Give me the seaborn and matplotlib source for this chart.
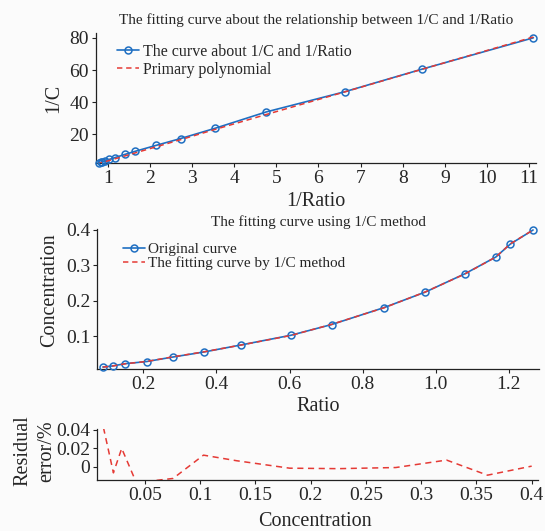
import numpy as np
import pandas as pd
import matplotlib
matplotlib.use("Agg")
import matplotlib.pyplot as plt
import seaborn as sns

# ---- data ----
# top panel: 1/C against 1/Ratio
inv_ratio = [11.10, 8.45, 6.62, 4.76, 3.54, 2.73, 2.14, 1.655, 1.40, 1.164, 1.03, 0.926, 0.859, 0.831, 0.79]
inv_conc = [80.0, 60.5, 46.5, 34.0, 23.8, 17.5, 13.2, 9.6, 7.6, 5.6, 4.5, 3.6, 3.1, 2.8, 2.5]
inv_conc_fit = [80.5, 60.4, 46.4, 32.4, 23.1, 16.8, 12.3, 8.6, 6.65, 4.86, 3.84, 3.05, 2.54, 2.32, 2.01]

# middle panel: Concentration against Ratio
ratio = [0.0896, 0.117, 0.150, 0.209, 0.281, 0.366, 0.467, 0.604, 0.715, 0.859, 0.971, 1.080, 1.164, 1.204, 1.266]
conc = [0.0131, 0.0162, 0.0224, 0.0285, 0.0413, 0.0555, 0.0753, 0.1028, 0.1330, 0.181, 0.2246, 0.2766, 0.3236, 0.3604, 0.400]
conc_fit = [0.0128, 0.0160, 0.0222, 0.0287, 0.0418, 0.0560, 0.0750, 0.1022, 0.1335, 0.1805, 0.2250, 0.2760, 0.3235, 0.3610, 0.4000]

# bottom panel: residual error against concentration
res_conc = [0.0125, 0.0165, 0.0215, 0.029, 0.0415, 0.056, 0.0755, 0.103, 0.133, 0.181, 0.225, 0.277, 0.323, 0.36, 0.40]
residual = [0.042, 0.0205, -0.0065, 0.0197, -0.015, -0.0152, -0.0125, 0.0125, 0.0065, -0.0015, -0.002, -0.0008, 0.0072, -0.009, 0.0007]

top_xticks = [1, 2, 3, 4, 5, 6, 7, 8, 9, 10, 11]
top_yticks = [20, 40, 60, 80]
mid_xticks = [0.2, 0.4, 0.6, 0.8, 1.0, 1.2]
mid_xlabels = ['0.2', '0.4', '0.6', '0.8', '1.0', '1.2']
mid_yticks = [0.1, 0.2, 0.3, 0.4]
mid_ylabels = ['0.1', '0.2', '0.3', '0.4']
res_xticks = [0.05, 0.1, 0.15, 0.2, 0.25, 0.3, 0.35, 0.4]
res_xlabels = ['0.05', '0.1', '0.15', '0.2', '0.25', '0.3', '0.35', '0.4']
res_yticks = [0, 0.02, 0.04]
res_ylabels = ['0', '0.02', '0.04']

sns.set_style('ticks')
plt.rcParams['font.family'] = ['Liberation Serif', 'DejaVu Serif']
plt.rcParams['xtick.direction'] = 'out'
plt.rcParams['ytick.direction'] = 'out'

blue = '#1f6fc2'
red = '#e53a35'
bg = '#fbfbfb'
tick_fs = 14
lab_fs = 14.5
title_fs = 11
leg_fs = 11.5

fig = plt.figure(figsize=(5.45, 5.31), dpi=100, facecolor=bg)
ax1 = fig.add_axes([0.1761, 0.6936, 0.808, 0.2437])
ax2 = fig.add_axes([0.1785, 0.3045, 0.811, 0.2637])
ax3 = fig.add_axes([0.1785, 0.0960, 0.808, 0.0960])

def style(ax):
    ax.set_facecolor(bg)
    sns.despine(ax=ax)
    for s in ['left', 'bottom']:
        ax.spines[s].set_linewidth(0.9)
        ax.spines[s].set_color('#222222')
    ax.tick_params(length=3, width=0.8, labelsize=tick_fs, pad=2, color='#222222')

dash = (0, (3.5, 2.5))

# ---- top panel ----
sns.lineplot(x=inv_ratio, y=inv_conc, ax=ax1, color=blue, lw=1.2, marker='o', markersize=5,
             markerfacecolor='none', markeredgecolor=blue, markeredgewidth=1.1,
             label='The curve about 1/C and 1/Ratio', sort=False, clip_on=False, zorder=3)
sns.lineplot(x=inv_ratio, y=inv_conc_fit, ax=ax1, color=red, lw=1.1, linestyle=dash,
             label='Primary polynomial', sort=False, zorder=4)
style(ax1)
ax1.set_xlim(0.72, 11.17)
ax1.set_ylim(2.5, 82.8)
ax1.set_xticks(top_xticks)
ax1.set_yticks(top_yticks)
ax1.set_xlabel('1/Ratio', fontsize=lab_fs, va='center')
ax1.xaxis.set_label_coords(0.5, -0.30)
ax1.set_ylabel('1/C', fontsize=lab_fs, va='center')
ax1.yaxis.set_label_coords(-0.096, 0.5)
ax1.set_title('The fitting curve about the relationship between 1/C and 1/Ratio',
              fontsize=title_fs, pad=7)
ax1.legend(loc='upper left', bbox_to_anchor=(0.048, 0.92), frameon=False, fontsize=leg_fs,
           borderpad=0, borderaxespad=0, handlelength=1.35, handletextpad=0.3, labelspacing=0.12)

# ---- middle panel ----
sns.lineplot(x=ratio, y=conc, ax=ax2, color=blue, lw=1.2, marker='o', markersize=5,
             markerfacecolor='none', markeredgecolor=blue, markeredgewidth=1.1,
             label='Original curve', sort=False, clip_on=False, zorder=3)
sns.lineplot(x=ratio, y=conc_fit, ax=ax2, color=red, lw=1.1, linestyle=dash,
             label='The fitting curve by 1/C method', sort=False, zorder=4)
style(ax2)
ax2.set_xlim(0.0743, 1.283)
ax2.set_ylim(0.0066, 0.402)
ax2.set_xticks(mid_xticks)
ax2.set_xticklabels(mid_xlabels)
ax2.set_yticks(mid_yticks)
ax2.set_yticklabels(mid_ylabels)
ax2.set_xlabel('Ratio', fontsize=lab_fs, va='center')
ax2.xaxis.set_label_coords(0.5, -0.267)
ax2.set_ylabel('Concentration', fontsize=lab_fs, va='center')
ax2.yaxis.set_label_coords(-0.107, 0.566)
ax2.set_title('The fitting curve using 1/C method', fontsize=title_fs, pad=2)
ax2.legend(loc='upper left', bbox_to_anchor=(0.058, 0.905), frameon=False, fontsize=11,
           borderpad=0, borderaxespad=0, handlelength=1.45, handletextpad=0.2, labelspacing=0.0)

# ---- residual panel ----
sns.lineplot(x=res_conc, y=residual, ax=ax3, color=red, lw=1.1, linestyle=(0, (4, 3)), sort=False)
style(ax3)
ax3.set_xlim(0.0069, 0.4054)
ax3.set_ylim(-0.0142, 0.0405)
ax3.set_xticks(res_xticks)
ax3.set_xticklabels(res_xlabels)
ax3.set_yticks(res_yticks)
ax3.set_yticklabels(res_ylabels)
ax3.set_xlabel('Concentration', fontsize=lab_fs, va='center')
ax3.xaxis.set_label_coords(0.494, -0.817)
ax3.set_ylabel('Residual\nerror/%', fontsize=lab_fs, va='center', linespacing=1.3)
ax3.yaxis.set_label_coords(-0.142, 0.57)

fig.savefig('out.png', dpi=100, facecolor=bg)
